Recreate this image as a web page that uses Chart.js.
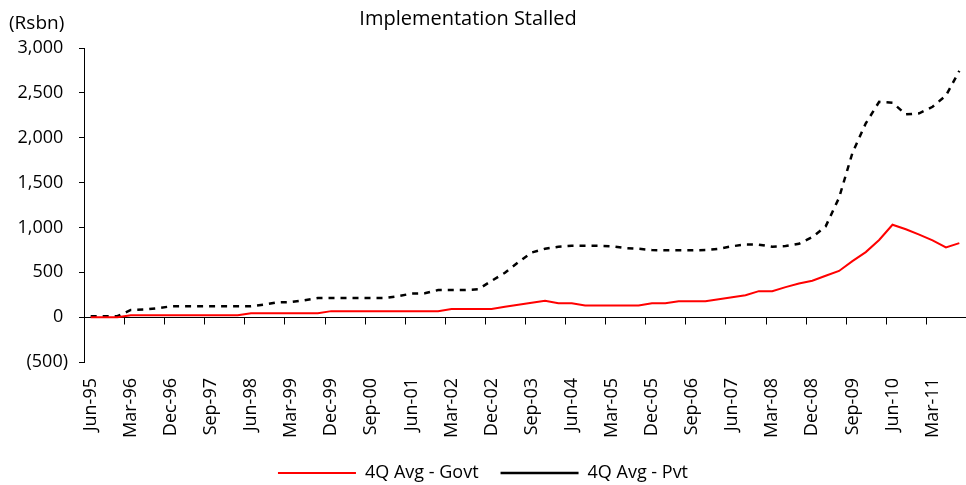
<!DOCTYPE html>
<html lang="en">
<head>
    <meta charset="UTF-8">
    <title>Implementation Stalled</title>
    <script src="https://cdn.jsdelivr.net/npm/chart.js"></script>
    <style>
        html, body { margin: 0; padding: 0; background: #fff; }
        .chart-box { width: 966px; height: 485px; position: relative; }
    </style>
</head>
<body>
    <div class="chart-box">
        <canvas id="stalledChart"></canvas>
    </div>
    <script>
        // Quarterly categories, Jun-95 to Sep-11
        const quarters = [
            'Jun-95', 'Sep-95', 'Dec-95',
            'Mar-96', 'Jun-96', 'Sep-96', 'Dec-96',
            'Mar-97', 'Jun-97', 'Sep-97', 'Dec-97',
            'Mar-98', 'Jun-98', 'Sep-98', 'Dec-98',
            'Mar-99', 'Jun-99', 'Sep-99', 'Dec-99',
            'Mar-00', 'Jun-00', 'Sep-00', 'Dec-00',
            'Mar-01', 'Jun-01', 'Sep-01', 'Dec-01',
            'Mar-02', 'Jun-02', 'Sep-02', 'Dec-02',
            'Mar-03', 'Jun-03', 'Sep-03', 'Dec-03',
            'Mar-04', 'Jun-04', 'Sep-04', 'Dec-04',
            'Mar-05', 'Jun-05', 'Sep-05', 'Dec-05',
            'Mar-06', 'Jun-06', 'Sep-06', 'Dec-06',
            'Mar-07', 'Jun-07', 'Sep-07', 'Dec-07',
            'Mar-08', 'Jun-08', 'Sep-08', 'Dec-08',
            'Mar-09', 'Jun-09', 'Sep-09', 'Dec-09',
            'Mar-10', 'Jun-10', 'Sep-10', 'Dec-10',
            'Mar-11', 'Jun-11', 'Sep-11'
        ];

        // 4Q average, Rs bn
        const govtAvg = [
            0, 0, 0,
            22, 22, 22, 22, 22, 22, 22, 22, 22,
            44, 44, 44, 44, 44, 44,
            67, 67, 67, 67, 67, 67, 67, 67, 67,
            90, 90, 90, 90,
            115, 137, 160, 182, 156, 156, 130, 130, 130, 130, 130, 156, 156,
            178, 178, 178, 200, 222, 244, 290, 290, 335, 375, 405, 462, 515,
            625, 725, 860, 1030, 980, 920, 855, 778, 825
        ];

        const pvtAvg = [
            10, 10, 10,
            80, 85, 100, 120,
            122, 122, 122, 122, 122, 122,
            140, 165, 168, 188, 212,
            214, 214, 214, 214, 214,
            234, 262, 266, 302, 303, 303, 310, 405, 495, 612, 720, 762, 785,
            795, 795, 795, 790, 770, 762, 748, 745, 745, 745, 748, 762, 790,
            810, 808, 785, 792, 818, 892, 1012, 1330, 1830, 2160, 2400, 2390,
            2260, 2272, 2345, 2470, 2745
        ];

        const seriesNames = ['4Q Avg - Govt', '4Q Avg - Pvt'];
        const chartTitle = 'Implementation Stalled';
        const unitLabel = '(Rsbn)';
        const labelEvery = 3;

        Chart.defaults.font.family = "'Open Sans', sans-serif";
        Chart.defaults.font.size = 18;
        Chart.defaults.color = '#000';

        // horizontal axis line at zero with its tick marks, title and unit label
        const zeroAxis = {
            id: 'zeroAxis',
            beforeDatasetsDraw(chart) {
                const { ctx, chartArea, scales: { x, y } } = chart;
                const y0 = Math.round(y.getPixelForValue(0)) + 0.5;
                ctx.save();
                ctx.strokeStyle = '#000';
                ctx.lineWidth = 1;
                ctx.beginPath();
                ctx.moveTo(chartArea.left, y0);
                ctx.lineTo(chartArea.right, y0);
                for (let k = labelEvery; k < quarters.length; k += labelEvery) {
                    const px = Math.round(x.getPixelForValue(k - 0.5)) + 0.5;
                    ctx.moveTo(px, y0);
                    ctx.lineTo(px, y0 + 7);
                }
                ctx.stroke();

                ctx.fillStyle = '#000';
                ctx.textBaseline = 'alphabetic';
                ctx.font = "19px 'Open Sans', sans-serif";
                ctx.textAlign = 'left';
                ctx.fillText(unitLabel, 9, 29);
                ctx.font = "20px 'Open Sans', sans-serif";
                ctx.textAlign = 'center';
                ctx.fillText(chartTitle, chart.width / 2 - 15, 25);
                ctx.restore();
            }
        };

        new Chart(document.getElementById('stalledChart'), {
            type: 'line',
            data: {
                labels: quarters,
                datasets: [
                    {
                        label: seriesNames[0],
                        data: govtAvg,
                        borderColor: '#FF0000',
                        backgroundColor: '#FF0000',
                        borderWidth: 2,
                        pointRadius: 0,
                        tension: 0
                    },
                    {
                        label: seriesNames[1],
                        data: pvtAvg,
                        borderColor: '#000',
                        backgroundColor: '#000',
                        borderWidth: 2.5,
                        borderDash: [6, 6],
                        pointRadius: 0,
                        tension: 0
                    }
                ]
            },
            options: {
                responsive: true,
                maintainAspectRatio: false,
                animation: false,
                layout: { padding: { left: 0, right: 0, top: 48, bottom: 3 } },
                plugins: {
                    title: { display: false },
                    legend: {
                        position: 'bottom',
                        maxHeight: 40,
                        labels: {
                            usePointStyle: true,
                            pointStyle: 'line',
                            pointStyleWidth: 78,
                            boxHeight: 18,
                            padding: 22,
                            font: { size: 18 }
                        }
                    },
                    tooltip: { enabled: false }
                },
                scales: {
                    x: {
                        offset: true,
                        border: { display: false },
                        grid: { display: false, drawTicks: false, offset: true },
                        ticks: {
                            autoSkip: false,
                            minRotation: 90,
                            maxRotation: 90,
                            padding: 16,
                            callback: (v, i) => (i % labelEvery === 0 ? quarters[i] : '')
                        },
                        afterFit(s) { s.paddingLeft = 0; s.paddingRight = 0; s.height = 80; }
                    },
                    y: {
                        min: -500,
                        max: 3000,
                        border: { display: true, color: '#000', width: 1 },
                        grid: { drawOnChartArea: false, drawTicks: true, tickLength: 5, tickColor: '#000' },
                        ticks: {
                            stepSize: 500,
                            padding: 11,
                            callback: v => v < 0 ? '(' + Math.abs(v).toLocaleString('en-US') + ')' : v.toLocaleString('en-US') + ' '
                        },
                        afterFit(s) { s.width = 84; }
                    }
                }
            },
            plugins: [zeroAxis]
        });
    </script>
</body>
</html>
